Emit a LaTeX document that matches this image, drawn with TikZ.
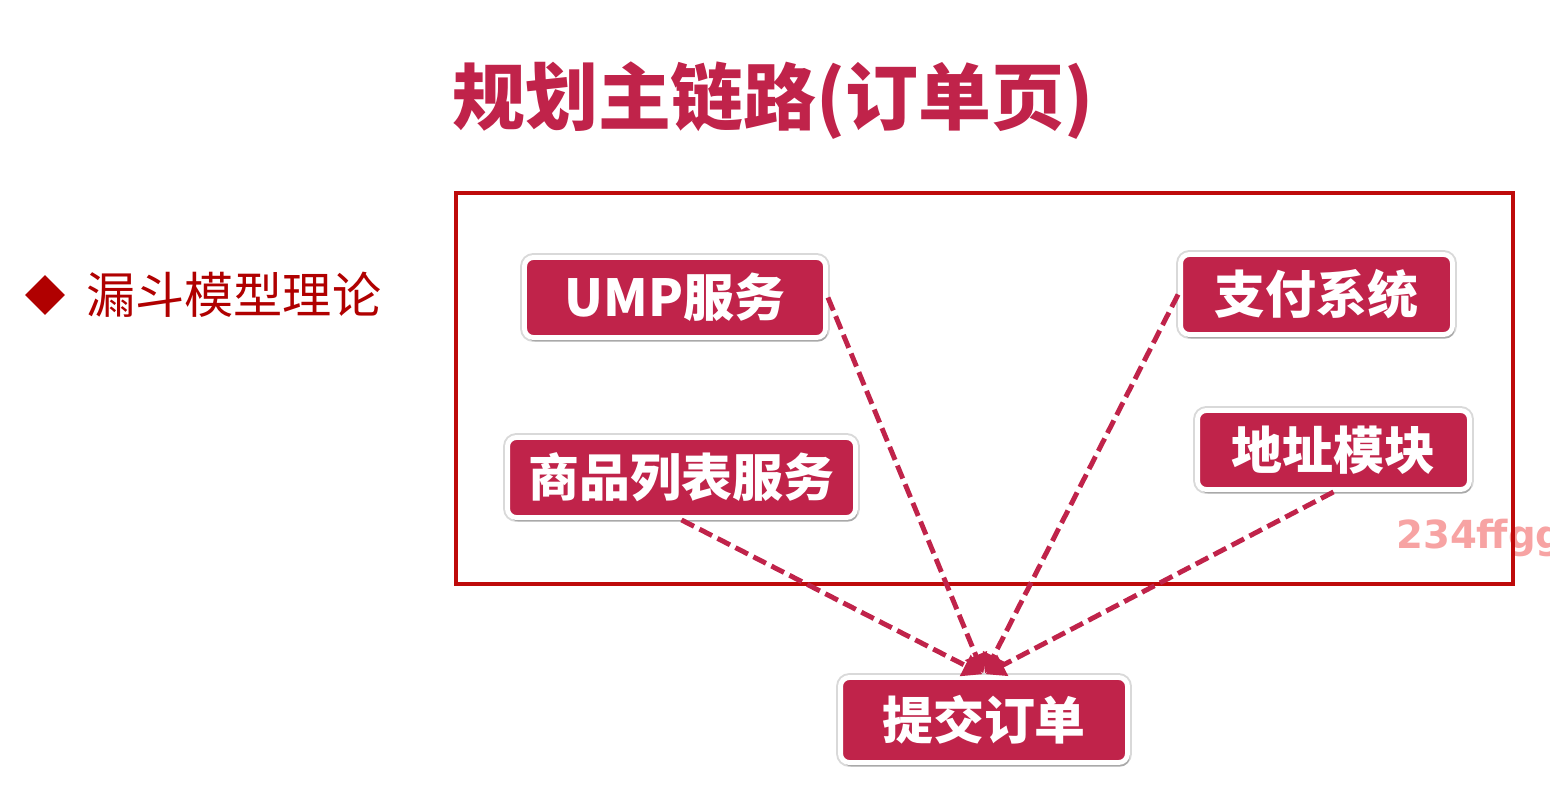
\documentclass[tikz,border=0pt]{standalone}
\usepackage{fontspec}
\newfontfamily\cjk{Noto Sans CJK SC}
\usetikzlibrary{arrows.meta,shadows,shapes.geometric}
\definecolor{crim}{HTML}{C0234A}
\definecolor{frame}{HTML}{BE0A0A}
\definecolor{bullet}{HTML}{B00000}
\definecolor{wm}{HTML}{F7A3A3}
\tikzset{
  box/.style={rectangle, rounded corners=5pt, fill=crim, draw=white, line width=2.8pt,
    text=white, font=\cjk\bfseries\fontsize{29}{33}\selectfont, inner sep=0pt,
    preaction={draw=black!15, line width=5pt},
    drop shadow={shadow xshift=1.2pt, shadow yshift=-2.2pt, opacity=0.22, fill=black}},
  flow/.style={draw=crim, line width=2.8pt, dash pattern=on 8pt off 3.5pt,
    -{Triangle[length=11pt,width=13pt]}, shorten >=1pt}
}
\begin{document}
\begin{tikzpicture}[x=0.02cm,y=-0.02cm]
\useasboundingbox (0,0) rectangle (1550,810);
\node[font=\cjk\bfseries\fontsize{41.5}{46}\selectfont, text=crim] (title) at (773,101) {规划主链路(订单页)};
\node[diamond, fill=bullet, inner sep=0pt, minimum size=0.8cm] (dia) at (45,295) {};
\node[font=\cjk\fontsize{28}{30}\selectfont, text=bullet, anchor=west] (lbl) at (80,295) {漏斗模型理论};
\draw[frame, line width=2pt] (456,193) rectangle (1513,584);
\node[text=wm, font=\fontsize{22}{26}\selectfont, anchor=west] (wmk) at (1390,538) {\fontspec{DejaVu Sans}\bfseries 234ffgg};
\draw[frame, line width=2pt] (1513,193) -- (1513,584);
\node[box, minimum width=6.02cm, minimum height=1.6cm] (ump) at (675,297.5) {UMP服务};
\node[box, minimum width=5.44cm, minimum height=1.6cm] (pay) at (1316.5,294.5) {支付系统};
\node[box, minimum width=6.96cm, minimum height=1.6cm] (goods) at (681.5,477.5) {商品列表服务};
\node[box, minimum width=5.44cm, minimum height=1.58cm] (addr) at (1333.5,450) {地址模块};
\node[box, minimum width=5.74cm, minimum height=1.7cm] (sub) at (984,720) {提交订单};
\draw[flow] (ump.east) -- (sub.north);
\draw[flow] (pay.west) -- (sub.north);
\draw[flow] (goods.south) -- (sub.north);
\draw[flow] (addr.south) -- (sub.north);
\end{tikzpicture}
\end{document}
